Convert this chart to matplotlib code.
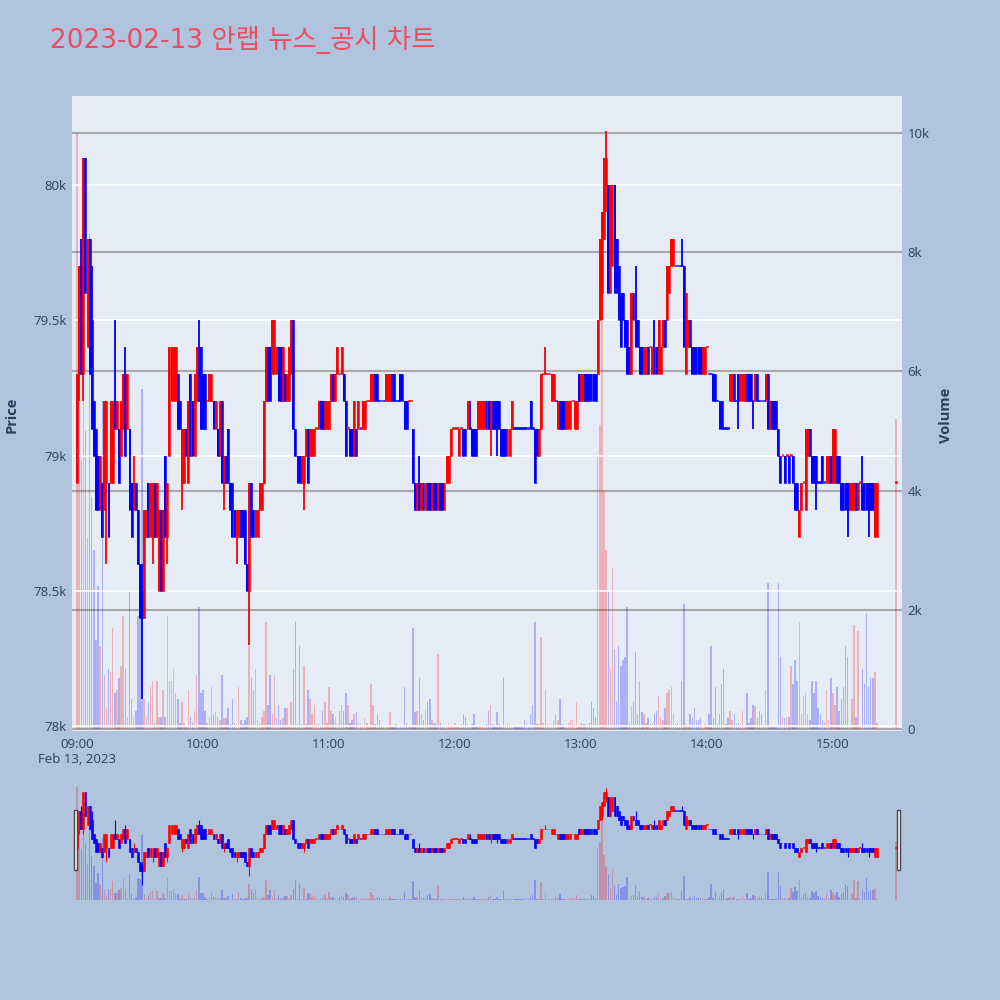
import numpy as np
import matplotlib.pyplot as plt
from matplotlib.patches import Rectangle

plt.rcParams['font.family'] = ['Open Sans', 'Noto Sans CJK KR', 'DejaVu Sans']

# one-minute candles from 09:00; prices in 100-won steps above 78,000
open_lv = [9, 13, 17, 13, 21, 14, 18, 15, 12, 11,
           10, 8, 9, 8, 9, 9, 9, 9, 12, 11,
           11, 10, 11, 13, 11, 11, 9, 8, 9, 8,
           6, 5, 4, 7, 9, 7, 7, 9, 7, 5,
           8, 5, 10, 7, 10, 12, 12, 12, 13, 12,
           9, 9, 11, 9, 13, 12, 10, 12, 14, 14,
           13, 13, 12, 12, 12, 12, 11, 11, 10, 12,
           9, 10, 11, 9, 9, 8, 7, 7, 8, 8,
           8, 6, 5, 9, 8, 7, 7, 8, 8, 9,
           12, 14, 14, 13, 13, 13, 14, 14, 12, 13,
           12, 12, 13, 15, 11, 10, 10, 9, 9, 10,
           11, 10, 10, 10, 11, 11, 12, 12, 11, 11,
           11, 12, 13, 12, 13, 13, 13, 13, 12, 11,
           11, 11, 10, 11, 11, 11, 11, 11, 12, 12,
           12, 12, 13, 13, 12, 12, 12, 12, 12, 12,
           13, 13, 12, 12, 13, 13, 12, 12, 12, 12,
           11, 9, 8, 9, 8, 9, 8, 9, 9, 8,
           9, 9, 8, 9, 9, 8, 9, 9, 10, 11,
           11, 11, 10, 11, 11, 11, 11, 11, 11, 11,
           11, 11, 11, 11, 11, 12, 12, 11, 12, 12,
           12, 12, 11, 11, 11, 10, 10, 11, 11, 11,
           11, 11, 11, 11, 11, 11, 12, 11, 11, 11,
           10, 11, 13, 13, 13, 13, 12, 12, 12, 11,
           12, 12, 12, 11, 11, 11, 12, 11, 11, 13,
           12, 12, 13, 13, 13, 13, 13, 13, 13, 15,
           16, 18, 20, 20, 16, 17, 20, 18, 17, 16,
           16, 15, 15, 14, 13, 16, 15, 15, 14, 14,
           13, 13, 14, 14, 13, 14, 14, 13, 13, 14,
           15, 15, 16, 17, 17, 17, 17, 17, 17, 17,
           13, 14, 15, 14, 14, 14, 14, 14, 13, 13,
           14, 13, 13, 13, 13, 12, 12, 12, 11, 11,
           11, 12, 12, 13, 12, 13, 12, 12, 12, 13,
           13, 13, 12, 12, 13, 12, 12, 12, 12, 13,
           11, 12, 12, 12, 11, 10, 10, 10, 10, 10,
           10, 10, 9, 9, 7, 8, 9, 8, 10, 11,
           10, 10, 10, 9, 9, 10, 9, 9, 9, 10,
           9, 9, 10, 10, 9, 9, 9, 9, 8, 8,
           8, 9, 8, 9, 9, 9, 9, 9, 9, 9,
           7, 7, 9]

high_lv = [13, 17, 18, 21, 21, 18, 18, 17, 12, 11,
           10, 10, 9, 12, 12, 9, 12, 12, 15, 12,
           11, 12, 13, 14, 13, 11, 9, 10, 9, 8,
           6, 6, 8, 8, 9, 9, 9, 9, 9, 8,
           8, 8, 10, 9, 14, 14, 14, 14, 13, 12,
           11, 11, 11, 12, 13, 12, 13, 14, 15, 14,
           13, 13, 12, 13, 13, 12, 12, 11, 12, 12,
           10, 10, 11, 9, 9, 8, 8, 8, 8, 8,
           8, 6, 9, 9, 8, 8, 8, 9, 9, 12,
           14, 14, 14, 15, 15, 14, 14, 14, 14, 13,
           13, 14, 15, 15, 11, 10, 10, 10, 10, 11,
           11, 11, 11, 11, 11, 12, 12, 12, 12, 12,
           12, 13, 13, 13, 14, 13, 14, 13, 12, 11,
           11, 11, 12, 11, 12, 11, 12, 12, 12, 12,
           13, 13, 13, 13, 12, 12, 12, 13, 13, 13,
           13, 13, 12, 12, 13, 13, 12, 12, 12, 12,
           11, 9, 9, 10, 9, 9, 9, 9, 9, 9,
           9, 9, 9, 9, 9, 9, 10, 10, 11, 11,
           11, 11, 11, 11, 11, 11, 12, 12, 11, 11,
           11, 12, 12, 12, 12, 12, 12, 12, 12, 12,
           12, 12, 11, 11, 11, 11, 11, 12, 11, 11,
           11, 11, 11, 11, 11, 11, 12, 11, 11, 11,
           11, 13, 13, 14, 13, 13, 13, 13, 12, 12,
           12, 12, 12, 12, 12, 12, 12, 12, 12, 13,
           13, 13, 13, 13, 13, 13, 13, 13, 15, 18,
           19, 21, 22, 20, 20, 20, 20, 18, 17, 16,
           16, 15, 15, 14, 16, 16, 17, 15, 14, 14,
           14, 14, 14, 14, 14, 15, 14, 15, 14, 15,
           15, 17, 17, 18, 18, 17, 17, 17, 18, 17,
           16, 15, 15, 14, 14, 14, 14, 14, 14, 14,
           14, 13, 13, 13, 13, 12, 12, 12, 11, 11,
           11, 13, 13, 13, 12, 13, 13, 13, 13, 13,
           13, 13, 12, 13, 13, 12, 12, 12, 13, 13,
           12, 12, 12, 12, 11, 10, 10, 10, 10, 10,
           10, 10, 9, 9, 8, 9, 9, 11, 11, 11,
           10, 10, 10, 9, 9, 10, 9, 10, 10, 10,
           11, 11, 10, 10, 9, 9, 9, 9, 9, 9,
           9, 9, 9, 9, 10, 9, 9, 9, 9, 9,
           9, 9, 9]

low_lv = [9, 12, 13, 12, 16, 14, 13, 11, 10, 8,
          8, 8, 7, 8, 6, 7, 9, 9, 11, 11,
          9, 10, 11, 10, 11, 8, 7, 8, 8, 6,
          4, 1, 4, 7, 7, 7, 6, 7, 7, 5,
          5, 5, 7, 6, 10, 12, 12, 12, 11, 11,
          8, 9, 10, 9, 10, 10, 10, 12, 12, 11,
          11, 11, 12, 12, 12, 11, 11, 10, 10, 9,
          8, 9, 9, 8, 7, 7, 6, 7, 7, 7,
          6, 5, 3, 7, 7, 7, 7, 8, 8, 9,
          12, 12, 12, 13, 13, 13, 12, 12, 12, 12,
          12, 12, 13, 11, 10, 9, 9, 9, 8, 10,
          9, 10, 10, 10, 11, 11, 11, 11, 11, 11,
          11, 12, 12, 12, 13, 13, 13, 12, 10, 11,
          10, 10, 10, 10, 11, 11, 11, 11, 12, 12,
          12, 12, 12, 12, 12, 12, 12, 12, 12, 12,
          12, 12, 12, 12, 12, 12, 11, 11, 12, 12,
          9, 8, 8, 8, 8, 8, 8, 8, 8, 8,
          8, 8, 8, 8, 8, 8, 9, 9, 10, 11,
          11, 11, 10, 11, 10, 10, 11, 11, 10, 10,
          10, 11, 11, 11, 11, 11, 11, 10, 11, 11,
          10, 11, 10, 10, 10, 10, 10, 11, 11, 11,
          11, 11, 11, 11, 11, 11, 11, 11, 9, 10,
          10, 11, 13, 13, 13, 13, 12, 12, 12, 11,
          11, 11, 11, 11, 11, 11, 12, 11, 11, 12,
          12, 12, 12, 12, 12, 12, 12, 12, 13, 15,
          15, 18, 19, 16, 16, 17, 16, 16, 15, 14,
          15, 14, 13, 13, 13, 15, 14, 14, 13, 13,
          13, 13, 13, 14, 13, 13, 13, 13, 13, 14,
          14, 15, 16, 17, 17, 17, 17, 17, 17, 14,
          13, 14, 14, 13, 13, 13, 13, 13, 13, 13,
          14, 13, 13, 12, 12, 12, 11, 11, 11, 11,
          11, 12, 12, 12, 12, 11, 12, 12, 12, 12,
          12, 12, 11, 12, 12, 12, 12, 12, 12, 11,
          11, 11, 11, 11, 10, 9, 10, 9, 10, 9,
          10, 9, 8, 8, 7, 8, 9, 8, 10, 10,
          9, 9, 8, 9, 9, 9, 9, 9, 9, 9,
          9, 9, 9, 9, 8, 8, 8, 7, 8, 8,
          8, 8, 8, 9, 8, 8, 8, 7, 8, 8,
          7, 7, 9]

close_lv = [13, 17, 13, 21, 16, 18, 13, 11, 10, 8,
            8, 10, 7, 12, 12, 7, 12, 12, 11, 12,
            9, 12, 13, 10, 13, 8, 7, 9, 8, 6,
            4, 4, 8, 8, 7, 9, 9, 7, 9, 8,
            5, 8, 7, 9, 14, 14, 14, 14, 11, 11,
            11, 11, 10, 12, 10, 10, 13, 14, 12, 11,
            11, 11, 12, 13, 13, 11, 12, 10, 12, 9,
            10, 9, 9, 8, 7, 7, 8, 8, 7, 7,
            6, 5, 9, 7, 7, 8, 8, 9, 9, 12,
            14, 12, 12, 15, 15, 14, 12, 12, 14, 12,
            13, 14, 15, 11, 10, 9, 9, 10, 10, 11,
            9, 11, 11, 11, 11, 12, 11, 11, 12, 12,
            12, 13, 12, 13, 14, 13, 14, 12, 10, 11,
            10, 10, 12, 10, 12, 11, 12, 12, 12, 12,
            13, 13, 12, 12, 12, 12, 12, 13, 13, 13,
            12, 12, 12, 12, 12, 12, 11, 11, 12, 12,
            9, 8, 9, 8, 9, 8, 9, 8, 8, 9,
            8, 8, 9, 8, 8, 9, 10, 10, 11, 11,
            11, 11, 11, 11, 10, 10, 12, 11, 10, 10,
            10, 12, 12, 12, 12, 11, 11, 12, 11, 11,
            11, 11, 10, 10, 10, 11, 11, 12, 11, 11,
            11, 11, 11, 11, 11, 11, 11, 11, 9, 10,
            11, 13, 13, 13, 13, 13, 13, 13, 12, 12,
            11, 11, 11, 12, 12, 12, 12, 12, 12, 12,
            13, 13, 12, 12, 12, 12, 12, 12, 15, 18,
            19, 21, 21, 16, 20, 20, 16, 16, 15, 14,
            15, 14, 13, 13, 16, 15, 14, 14, 13, 13,
            14, 14, 13, 14, 14, 13, 13, 15, 14, 15,
            14, 17, 17, 18, 18, 17, 17, 17, 17, 14,
            16, 15, 14, 13, 13, 13, 13, 13, 14, 14,
            14, 13, 13, 12, 12, 12, 11, 11, 11, 11,
            11, 13, 13, 12, 12, 12, 13, 13, 13, 12,
            12, 12, 12, 13, 12, 12, 12, 12, 13, 11,
            12, 11, 11, 11, 10, 9, 10, 9, 10, 9,
            10, 9, 8, 8, 8, 9, 9, 11, 11, 10,
            9, 9, 9, 9, 9, 9, 9, 10, 10, 9,
            11, 11, 9, 9, 8, 8, 8, 8, 9, 9,
            9, 8, 9, 9, 8, 8, 8, 8, 8, 8,
            9, 9, 9]

# volume in thousands of shares
vol_k = [10.0, 6.0, 4.5, 5.8, 5.0, 3.2, 8.3, 3.9, 3.0, 1.5,
         2.4, 1.4, 5.5, 0.9, 0.35, 1.0, 0.95, 1.7, 0.6, 0.65,
         0.85, 1.05, 1.9, 1.0, 0.2, 2.3, 0.5, 0.2, 0.3, 1.9,
         1.85, 5.7, 0.5, 0.2, 0.45, 0.7, 0.8, 0.1, 0.8, 0.2,
         0.2, 0.65, 0.2, 1.9, 0.8, 0.8, 1.0, 0.6, 0.5, 0.1,
         0.45, 0.1, 0.05, 0.65, 0.2, 0.1, 0.3, 0.9, 2.05, 0.6,
         0.65, 0.3, 0.1, 0.2, 0.7, 0.25, 0.28, 0.2, 0.15, 0.9,
         0.18, 0.18, 0.35, 0.08, 0.5, 0.1, 0.08, 0.7, 0.15, 0.08,
         0.15, 0.2, 1.4, 0.85, 0.65, 1.0, 0.15, 0.1, 0.2, 0.3,
         1.8, 0.4, 0.9, 0.25, 0.9, 0.18, 0.4, 0.15, 0.18, 0.35,
         0.35, 0.05, 0.45, 1.0, 1.8, 0.08, 1.4, 0.08, 1.05, 0.08,
         0.65, 0.5, 0.25, 0.4, 0.08, 0.1, 0.05, 0.3, 0.45, 0.1,
         0.7, 0.3, 0.25, 0.2, 0.08, 0.3, 0.4, 0.3, 0.6, 0.4,
         0.1, 0.15, 0.25, 0.28, 0.1, 0.08, 0.05, 0.18, 0.1, 0.05,
         0.75, 0.4, 0.08, 0.25, 0.15, 0.05, 0.05, 0.05, 0.05, 0.28,
         0.05, 0.05, 0.08, 0.05, 0.05, 0.05, 0.7, 0.1, 0.05, 0.05,
         1.7, 0.28, 0.3, 0.85, 0.25, 0.15, 0.3, 0.45, 0.5, 0.15,
         0.1, 0.08, 1.25, 0.1, 0.05, 0.05, 0.05, 0.1, 0.05, 0.05,
         0.1, 0.05, 0.05, 0.08, 0.25, 0.2, 0.08, 0.05, 0.08, 0.25,
         0.05, 0.05, 0.05, 0.05, 0.05, 0.08, 0.3, 0.4, 0.08, 0.05,
         0.28, 0.08, 0.05, 0.85, 0.05, 0.08, 0.08, 0.05, 0.05, 0.05,
         0.05, 0.05, 0.05, 0.15, 0.1, 0.05, 0.25, 0.4, 1.8, 0.08,
         0.08, 1.55, 0.1, 0.65, 0.08, 0.05, 0.08, 0.15, 0.25, 0.15,
         0.5, 0.08, 0.05, 0.08, 0.1, 0.15, 0.15, 0.08, 0.45, 0.05,
         0.1, 0.08, 0.08, 0.05, 0.1, 0.45, 0.35, 0.2, 4.6, 5.1,
         7.8, 4.0, 3.0, 2.3, 1.0, 2.7, 1.35, 0.45, 1.4, 1.05,
         1.15, 1.2, 2.05, 0.1, 0.38, 0.45, 1.3, 0.25, 0.8, 0.28,
         0.25, 0.1, 0.18, 0.08, 0.1, 0.25, 0.3, 0.55, 0.2, 0.15,
         0.35, 0.6, 0.65, 0.7, 0.25, 0.08, 0.1, 0.05, 0.8, 2.1,
         0.08, 0.05, 0.25, 0.18, 0.35, 0.15, 0.15, 0.18, 0.05, 0.08,
         0.05, 0.25, 1.4, 0.18, 0.7, 0.08, 0.25, 0.75, 1.0, 0.08,
         0.18, 0.3, 0.15, 0.25, 0.08, 0.1, 0.08, 0.3, 0.05, 0.6,
         0.1, 0.18, 0.4, 0.38, 0.18, 0.3, 0.25, 0.05, 0.65, 2.45,
         0.05, 0.05, 0.05, 0.05, 2.45, 1.2, 0.2, 0.18, 0.18, 0.2,
         1.05, 0.75, 1.15, 0.8, 1.8, 0.25, 0.55, 0.6, 0.25, 0.15,
         0.8, 0.6, 0.8, 0.35, 0.25, 0.15, 0.1, 0.65, 0.15, 0.85,
         0.6, 0.4, 0.7, 0.3, 0.5, 0.7, 1.4, 1.2, 0.05, 0.5,
         1.75, 0.2, 1.65, 0.05, 1.0, 0.75, 1.95, 0.7, 0.85, 0.85,
         0.95, 0.1, 5.2]

# minutes after 09:00 (continuous session to 15:21, closing auction at 15:30)
minutes = list(range(382)) + [390]

x = np.array(minutes)
o = 78000 + 100 * np.array(open_lv)
h = 78000 + 100 * np.array(high_lv)
l = 78000 + 100 * np.array(low_lv)
c = 78000 + 100 * np.array(close_lv)
v = 1000 * np.array(vol_k)

# direction: close vs open, ties decided by previous close
up = []
prev_c, prev_up = None, True
for oo, cc in zip(o, c):
    if cc > oo:
        u = True
    elif cc < oo:
        u = False
    elif prev_c is not None and cc != prev_c:
        u = cc > prev_c
    else:
        u = prev_up
    up.append(u)
    prev_c, prev_up = cc, u
up = np.array(up)

RED, BLUE = '#FF0000', '#0000FF'
cols = np.where(up, RED, BLUE)
vcols = [(1, 0, 0, 0.25) if u else (0, 0, 1, 0.25) for u in up]

PLOT_BG = '#E5ECF6'
PAPER = '#B0C4DE'
FONT_C = '#2a3f5f'


def draw(ax, axv, wick_lw, min_h):
    axv.bar(x, v, width=0.7, color=vcols, linewidth=0, zorder=2)
    ax.vlines(x, l, h, colors=cols, lw=wick_lw, zorder=3)
    bottom = np.minimum(o, c)
    height = np.maximum(np.abs(c - o), min_h)
    ax.bar(x, height, bottom=bottom, width=0.9, color=cols, edgecolor=cols,
           linewidth=0.4, zorder=4)


fig = plt.figure(figsize=(10, 10), dpi=100)
fig.patch.set_facecolor(PAPER)

# main chart
ax = fig.add_axes([0.072, 0.269, 0.830, 0.635])
axv = ax.twinx()
ax.set_zorder(axv.get_zorder() + 1)
ax.patch.set_visible(False)
axv.patch.set_visible(True)
axv.patch.set_facecolor(PLOT_BG)

draw(ax, axv, 1.3, 6)

ax.set_xlim(-2.4, 392.9)
ax.set_ylim(77981, 80330)
axv.set_ylim(-34, 10622)

p_ticks = [78000, 78500, 79000, 79500, 80000]
p_labels = ['78k', '78.5k', '79k', '79.5k', '80k']
v_ticks = [0, 2000, 4000, 6000, 8000, 10000]
v_labels = ['0', '2k', '4k', '6k', '8k', '10k']
t_ticks = [0, 60, 120, 180, 240, 300, 360]
t_labels = ['09:00\nFeb 13, 2023', '10:00', '11:00', '12:00', '13:00', '14:00', '15:00']

ax.set_yticks(p_ticks)
ax.set_yticklabels(p_labels)
axv.set_yticks(v_ticks)
axv.set_yticklabels(v_labels)
ax.set_xticks(t_ticks)
ax.set_xticklabels(t_labels)

for a in (ax, axv):
    for s in a.spines.values():
        s.set_visible(False)
    a.tick_params(length=0, colors=FONT_C, labelsize=9.5)
ax.tick_params(axis='y', pad=4)
axv.tick_params(axis='y', pad=4)
ax.tick_params(axis='x', pad=5)

ax.grid(axis='y', color='white', lw=1.2, zorder=0)
ax.grid(axis='x', visible=False)
axv.grid(axis='y', color='#A8A8A8', lw=1.5, zorder=0)
axv.axhline(0, color='white', lw=1.5, zorder=1)

fig.text(0.012, 0.585, 'Price', rotation=90, va='center', ha='center',
         fontsize=10.5, fontweight='bold', color=FONT_C)
fig.text(0.946, 0.585, 'Volume', rotation=90, va='center', ha='center',
         fontsize=10.5, fontweight='bold', color=FONT_C)

fig.text(0.05, 0.960, '2023-02-13 안랩 뉴스_공시 차트', fontsize=19,
         family=['DejaVu Sans', 'Noto Sans CJK KR'],
         color='#EC4C64', va='center', ha='left')

# range slider
sl = fig.add_axes([0.076, 0.100, 0.822, 0.120])
slv = sl.twinx()
sl.set_zorder(slv.get_zorder() + 1)
sl.patch.set_visible(False)
slv.patch.set_facecolor(PLOT_BG)
draw(sl, slv, 0.8, 10)
sl.set_xlim(-0.5, 391)
sl.set_ylim(77770, 80370)
slv.set_ylim(0, 10600)
for a in (sl, slv):
    a.set_xticks([])
    a.set_yticks([])
    for s in a.spines.values():
        s.set_visible(False)

for hx in (0.0735, 0.8965):
    fig.patches.append(Rectangle((hx, 0.13), 0.0035, 0.06, transform=fig.transFigure,
                                 facecolor='white', edgecolor='#444444', lw=1, zorder=10))

fig.savefig('out.png', dpi=100, facecolor=PAPER)
